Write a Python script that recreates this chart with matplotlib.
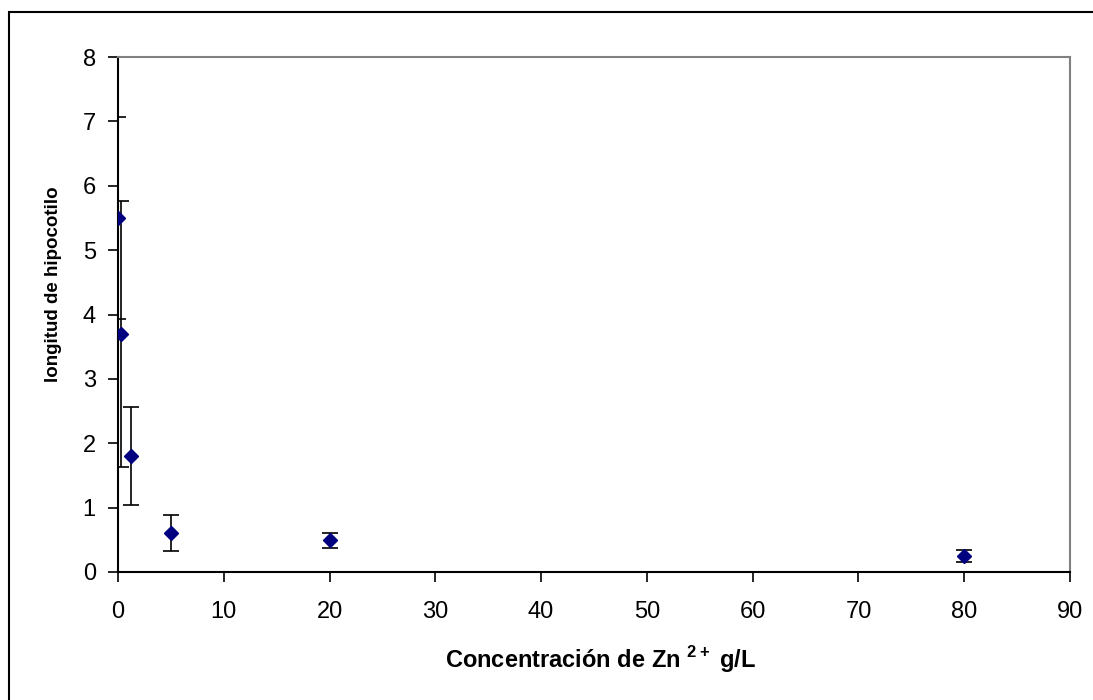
import matplotlib
matplotlib.use("Agg")
import matplotlib.pyplot as plt
from matplotlib.patches import Rectangle

plt.rcParams['font.family'] = ['Liberation Sans', 'DejaVu Sans']
plt.rcParams['mathtext.fontset'] = 'custom'
plt.rcParams['mathtext.rm'] = 'Liberation Sans'
plt.rcParams['mathtext.bf'] = 'Liberation Sans:bold'

# Data
conc = [0, 0.3, 1.2, 5, 20, 80]
length = [5.5, 3.7, 1.8, 0.6, 0.49, 0.25]
err = [1.57, 2.07, 0.76, 0.28, 0.115, 0.09]
xticks = [0, 10, 20, 30, 40, 50, 60, 70, 80, 90]
yticks = [0, 1, 2, 3, 4, 5, 6, 7, 8]

W, H = 1093, 700
fig = plt.figure(figsize=(W / 100, H / 100), dpi=100)
fig.patches.append(Rectangle((9 / W, -0.05), 1.2, 1 - 12 / H + 0.05,
                             transform=fig.transFigure, fill=False,
                             edgecolor='black', linewidth=1.5))
ax = fig.add_axes([118 / W, 1 - 572 / H, (1070 - 118) / W, (572 - 57) / H])

ax.errorbar(conc, length, yerr=err, fmt='none', ecolor='black',
            elinewidth=1.2, capsize=5.5, capthick=1.2, zorder=2)
ax.plot(conc, length, linestyle='none', marker='D', markersize=7.5,
        color='#000080', zorder=3)

ax.set_xlim(0, 90)
ax.set_ylim(0, 8)
ax.set_xticks(xticks)
ax.set_yticks(yticks)
ax.tick_params(axis='both', direction='out', length=7, width=1.2,
               labelsize=17, color='black')
ax.tick_params(axis='x', pad=14)
ax.tick_params(axis='y', pad=9)
for s in ['left', 'bottom']:
    ax.spines[s].set_color('black')
    ax.spines[s].set_linewidth(1.5)
for s in ['top', 'right']:
    ax.spines[s].set_color('#808080')
    ax.spines[s].set_linewidth(1.5)

fig.text(445 / W, 1 - 668 / H, r'Concentración de Zn $^{\mathbf{2+}}$ g/L',
         fontsize=17, fontweight='bold', ha='left', va='baseline')
fig.text(54 / W, 1 - 284 / H, 'longitud de hipocotilo', fontsize=13.5,
         fontweight='bold', rotation=90, ha='center', va='center')

fig.savefig('out.png', dpi=100)
